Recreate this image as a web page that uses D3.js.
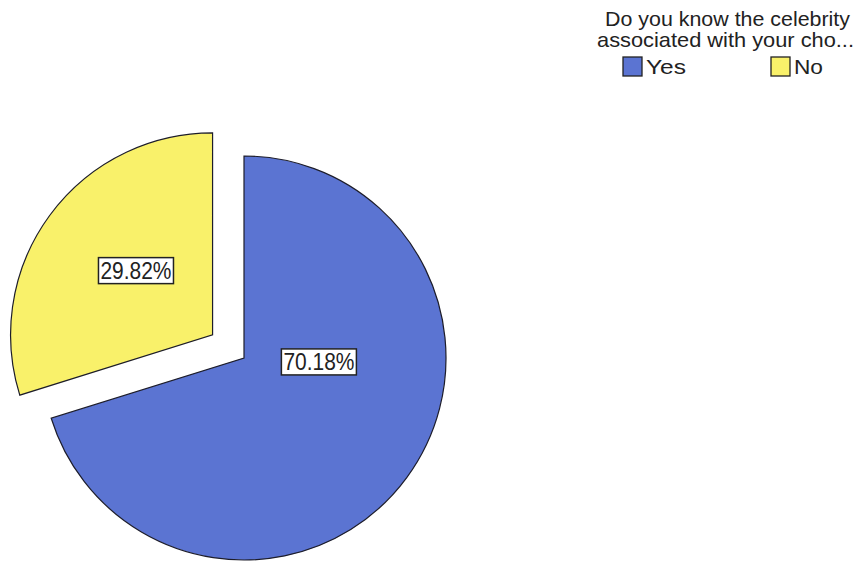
<!DOCTYPE html>
<html>
<head>
<meta charset="utf-8">
<script src="https://cdn.jsdelivr.net/npm/d3@7"></script>
<style>
  html, body { margin: 0; padding: 0; background: #fff; }
  svg { display: block; }
  text { font-family: "Liberation Sans", Arial, sans-serif; fill: #222; }
</style>
</head>
<body>
<svg id="chart" width="858" height="565"></svg>
<script>
// Survey answers and their shares (percent)
const categories = ["Yes", "No"];
const shares = [70.18, 29.82];
const labels = ["70.18%", "29.82%"];
const colors = ["#5b74d2", "#f9f16a"];
const exploded = [false, true];
const legendTitle = ["Do you know the celebrity", "associated with your cho..."];

const svg = d3.select("#chart");
const cx = 244, cy = 358, radius = 202, explodeDist = 39;

const pie = d3.pie().sort(null).value(d => d.value).startAngle(0).endAngle(2 * Math.PI);
const arc = d3.arc().innerRadius(0).outerRadius(radius);

const data = categories.map((c, i) => ({
  name: c, value: shares[i], label: labels[i], color: colors[i], exploded: exploded[i]
}));
const arcs = pie(data);

// Offset for exploded slices along their mid angle
function offset(a) {
  if (!a.data.exploded) return [0, 0];
  const mid = (a.startAngle + a.endAngle) / 2;
  return [Math.sin(mid) * explodeDist, -Math.cos(mid) * explodeDist];
}

const g = svg.append("g").attr("transform", `translate(${cx},${cy})`);

const slices = g.selectAll("g.slice").data(arcs).join("g")
  .attr("class", "slice")
  .attr("transform", d => { const o = offset(d); return `translate(${o[0]},${o[1]})`; });

slices.append("path")
  .attr("d", arc)
  .attr("fill", d => d.data.color)
  .attr("stroke", "#1d1d2a")
  .attr("stroke-width", 1.2)
  .attr("stroke-linejoin", "miter");

// Value labels: boxed text placed at a radius along a per-slice angle
const labelArc = d3.arc().innerRadius(0).outerRadius(radius);
const labelPlacement = { Yes: { angle: 93, r: 75 }, No: { angle: 310, r: 100 } };

slices.each(function(d) {
  const p = labelPlacement[d.data.name];
  const a = p.angle * Math.PI / 180;
  const x = Math.sin(a) * p.r, y = -Math.cos(a) * p.r;
  const w = 75, h = 26;
  const grp = d3.select(this).append("g").attr("transform", `translate(${x},${y})`);
  grp.append("rect")
    .attr("x", -w / 2).attr("y", -h / 2).attr("width", w).attr("height", h)
    .attr("fill", "#fff").attr("stroke", "#222").attr("stroke-width", 1.5);
  grp.append("text")
    .attr("x", -w / 2 + 2).attr("y", 8)
    .attr("font-size", 23)
    .attr("textLength", w - 4)
    .attr("lengthAdjust", "spacingAndGlyphs")
    .text(d.data.label);
});

// Legend
const legend = svg.append("g");
legend.append("text").attr("x", 605).attr("y", 26).attr("font-size", 21)
  .attr("textLength", 245).attr("lengthAdjust", "spacingAndGlyphs").text(legendTitle[0]);
legend.append("text").attr("x", 597).attr("y", 47).attr("font-size", 21)
  .attr("textLength", 257).attr("lengthAdjust", "spacingAndGlyphs").text(legendTitle[1]);

const legendX = d3.scaleOrdinal().domain(categories).range([623, 771]);
const items = legend.selectAll("g.item").data(data).join("g")
  .attr("class", "item")
  .attr("transform", d => `translate(${legendX(d.name)},57)`);
items.append("rect")
  .attr("width", 19).attr("height", 19)
  .attr("fill", d => d.color).attr("stroke", "#222").attr("stroke-width", 1.3);
items.append("text")
  .attr("x", 23).attr("y", 17).attr("font-size", 21)
  .attr("textLength", d => d.name === "Yes" ? 40 : 29)
  .attr("lengthAdjust", "spacingAndGlyphs")
  .text(d => d.name);
</script>
</body>
</html>
